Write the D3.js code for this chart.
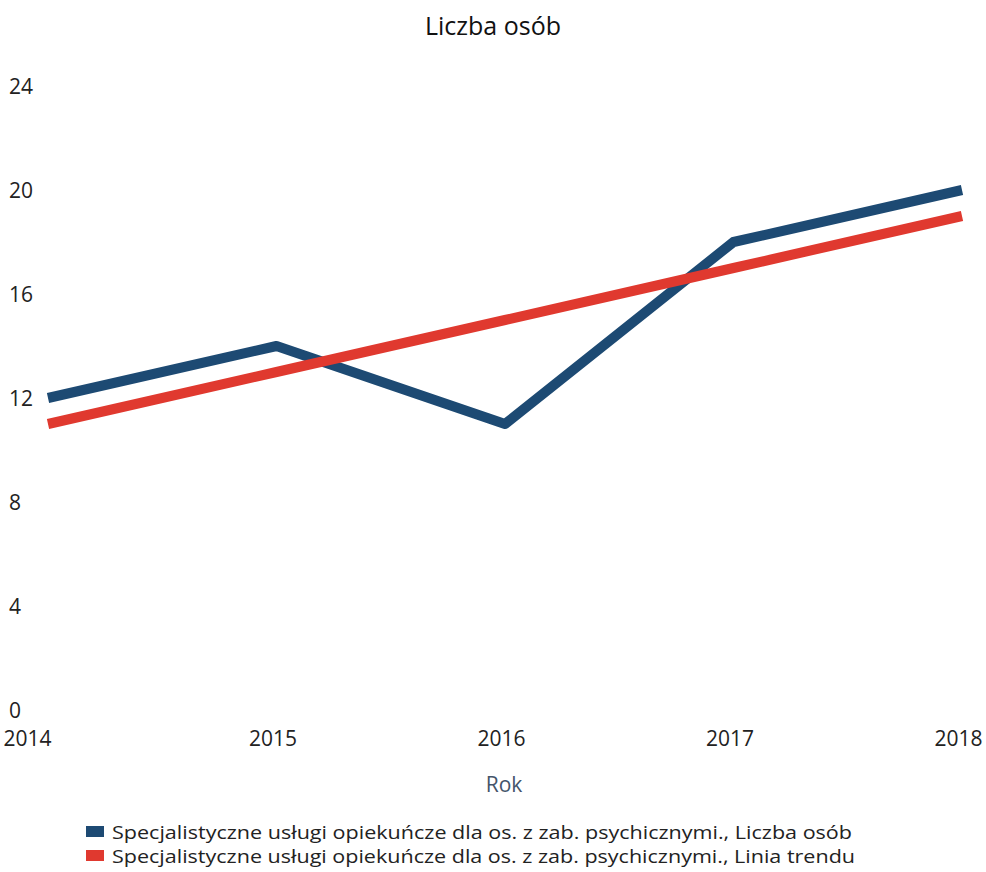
<!DOCTYPE html>
<html>
<head>
<meta charset="utf-8">
<script src="https://cdn.jsdelivr.net/npm/d3@7"></script>
<style>
  body { margin: 0; background: #fff; }
  text { font-family: "Open Sans", "Noto Sans", sans-serif; }
</style>
</head>
<body>
<svg width="986" height="872"></svg>
<script>
// values
var years = [2014, 2015, 2016, 2017, 2018];
var liczbaOsob = [12, 14, 11, 18, 20];
var liniaTrendu = [11, 13, 15, 17, 19];
var yTicks = [0, 4, 8, 12, 16, 20, 24];
var legendLabels = [
  "Specjalistyczne usługi opiekuńcze dla os. z zab. psychicznymi., Liczba osób",
  "Specjalistyczne usługi opiekuńcze dla os. z zab. psychicznymi., Linia trendu"
];
var colors = ["#1d4a73", "#e0392f"];

var svg = d3.select("svg"),
    width = +svg.attr("width"),
    height = +svg.attr("height");

var x = d3.scaleLinear()
    .domain([2014, 2018])
    .range([48, 962]);

var y = d3.scaleLinear()
    .domain([0, 24])
    .range([710, 86]);

// title
svg.append("text")
    .attr("x", 493)
    .attr("y", 35)
    .attr("text-anchor", "middle")
    .attr("font-size", 25)
    .attr("fill", "#111")
    .text("Liczba osób");

// y axis labels (no line, no ticks)
var gy = svg.append("g")
    .attr("transform", "translate(9,0)")
    .call(d3.axisRight(y).tickValues(yTicks).tickSize(0).tickPadding(0));
gy.select(".domain").remove();
gy.selectAll("text")
    .attr("font-size", 21)
    .attr("font-family", "Open Sans, Noto Sans, sans-serif")
    .attr("fill", "#222")
    .attr("text-anchor", "start")
    .attr("dy", "0.35em");

// x axis labels
var gx = svg.append("g")
    .attr("transform", "translate(0,731)")
    .call(d3.axisBottom(x).tickValues(years).tickFormat(d3.format("d")).tickSize(0).tickPadding(0));
gx.select(".domain").remove();
gx.selectAll("text")
    .attr("font-size", 21)
    .attr("font-family", "Open Sans, Noto Sans, sans-serif")
    .attr("fill", "#222")
    .attr("dy", "0.71em")
    .attr("text-anchor", function(d, i) {
      return i == 0 ? "start" : (i == years.length - 1 ? "end" : "middle");
    })
    .attr("dx", function(d, i) {
      return i == 0 ? -45 : (i == years.length - 1 ? 20 : -4);
    });

svg.append("text")
    .attr("x", 504)
    .attr("y", 792)
    .attr("text-anchor", "middle")
    .attr("font-size", 21)
    .attr("fill", "#44546a")
    .text("Rok");

var line = d3.line()
    .x(function(d) { return x(d[0]); })
    .y(function(d) { return y(d[1]); });

[liczbaOsob, liniaTrendu].forEach(function(vals, i) {
  svg.append("path")
      .datum(years.map(function(yr, j) { return [yr, vals[j]]; }))
      .attr("fill", "none")
      .attr("stroke", colors[i])
      .attr("stroke-width", 10)
      .attr("stroke-linejoin", "round")
      .attr("d", line);
});

// legend
var lg = svg.append("g")
    .selectAll("g")
    .data(legendLabels)
    .enter().append("g")
    .attr("transform", function(d, i) { return "translate(86," + (832 + i * 24) + ")"; });

lg.append("rect")
    .attr("x", 0)
    .attr("y", -6)
    .attr("width", 18)
    .attr("height", 11)
    .attr("fill", function(d, i) { return colors[i]; });

lg.append("text")
    .attr("x", 26)
    .attr("y", 0)
    .attr("dy", "0.35em")
    .attr("font-size", 19)
    .attr("fill", "#222")
    .attr("textLength", function(d, i) { return i == 0 ? 740 : 743; })
    .attr("lengthAdjust", "spacingAndGlyphs")
    .text(function(d) { return d; });
</script>
</body>
</html>
